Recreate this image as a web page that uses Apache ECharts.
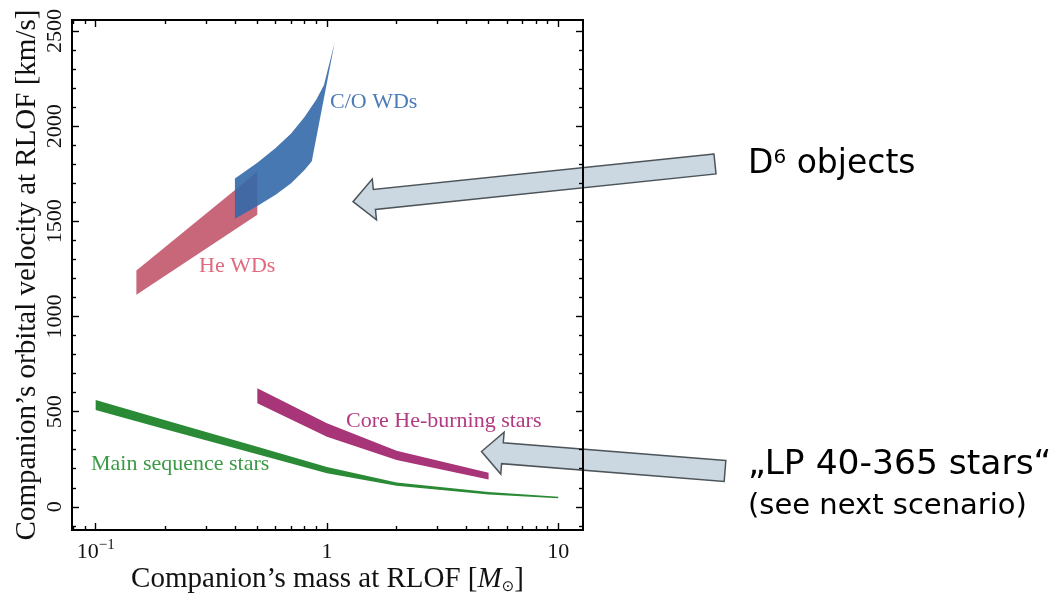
<!DOCTYPE html>
<html>
<head>
<meta charset="utf-8">
<script src="https://cdn.jsdelivr.net/npm/echarts@6/dist/echarts.min.js"></script>
<style>
  html, body { margin: 0; padding: 0; background: #fff; }
  #chart { width: 1051px; height: 595px; }
</style>
</head>
<body>
<div id="chart"></div>
<script>
// Companion's mass at RLOF [Msun] against orbital velocity at RLOF [km/s].
// Each class of companion is a band: an upper and a lower edge, [mass, velocity].
const heWdUpper = [[0.15, 1242], [0.5, 1760]];
const heWdLower = [[0.15, 1114], [0.5, 1535]];

const coWdUpper = [[0.4, 1725], [0.5, 1808], [0.6, 1885], [0.7, 1962], [0.8, 2048], [0.9, 2140], [0.97, 2215], [1.08, 2440]];
const coWdLower = [[0.4, 1513], [0.5, 1580], [0.6, 1640], [0.7, 1700], [0.8, 1770], [0.86, 1816], [1.08, 2440]];

const msUpper = [[0.1, 561], [0.2, 455], [0.5, 316], [1, 209], [2, 128], [5, 78], [10, 53]];
const msLower = [[0.1, 509], [0.2, 408], [0.5, 276], [1, 176], [2, 110], [5, 65], [10, 45]];

const heBurnUpper = [[0.5, 623], [1, 439], [2, 295], [5, 179]];
const heBurnLower = [[0.5, 544], [1, 368], [2, 246], [5, 144]];

// Axis ranges and ticks
const xRange = [0.079, 12.8];
const yRange = [-122, 2558];
const xMajorTicks = [0.1, 1, 10];
const xMinorTicks = [0.08, 0.09, 0.2, 0.3, 0.4, 0.5, 0.6, 0.7, 0.8, 0.9, 2, 3, 4, 5, 6, 7, 8, 9];
const yMajorTicks = [0, 500, 1000, 1500, 2000, 2500];
const yMinorTicks = [-100, 100, 200, 300, 400, 600, 700, 800, 900, 1100, 1200, 1300, 1400,
  1600, 1700, 1800, 1900, 2100, 2200, 2300, 2400];

const xTitle = 'Companion\u2019s mass at RLOF [{i|M}{sub|\u2299}]';
const yTitle = 'Companion\u2019s orbital velocity at RLOF [km/s]';

const SERIF = '"Liberation Serif", "DejaVu Serif", serif';
const SANS = '"DejaVu Sans", sans-serif';

const chart = echarts.init(document.getElementById('chart'), null, { renderer: 'canvas' });

// Filled band: the upper edge followed by the lower edge reversed, drawn as one polygon.
function band(name, upper, lower, color, opacity, z) {
  const ring = upper.concat(lower.slice().reverse());
  return {
    type: 'custom',
    name: name,
    coordinateSystem: 'cartesian2d',
    xAxisIndex: 0,
    yAxisIndex: 0,
    clip: true,
    silent: true,
    z: z,
    data: ring,
    encode: { x: 0, y: 1 },
    renderItem: function (params, api) {
      if (params.dataIndex !== 0) return null;
      return {
        type: 'polygon',
        shape: { points: ring.map(function (p) { return api.coord(p); }) },
        style: { fill: color, opacity: opacity }
      };
    }
  };
}

function xLabel(v) {
  const e = Math.round(Math.log10(v));
  if (e < 0) return '10{sup|\u2212' + (-e) + '}';
  return String(Math.round(v));
}

function makeX(position, ticks, len, withLabels) {
  return {
    type: 'log',
    logBase: 10,
    min: xRange[0],
    max: xRange[1],
    position: position,
    gridIndex: 0,
    name: withLabels ? xTitle : '',
    nameLocation: 'middle',
    nameGap: 33,
    nameMoveOverlap: false,
    nameTextStyle: {
      fontFamily: SERIF, fontSize: 29, color: '#111', lineHeight: 32,
      rich: {
        i: { fontFamily: SERIF, fontSize: 29, fontStyle: 'italic', color: '#111' },
        sub: { fontFamily: SANS, fontSize: 15, verticalAlign: 'bottom', color: '#111' }
      }
    },
    axisLine: { show: true, onZero: false, lineStyle: { color: '#000', width: 2 } },
    axisTick: { show: true, inside: true, length: len, customValues: ticks, lineStyle: { color: '#000', width: 1.4 } },
    axisLabel: {
      show: withLabels,
      customValues: xMajorTicks,
      formatter: xLabel,
      margin: 8,
      fontFamily: SERIF, fontSize: 22, color: '#111', lineHeight: 29,
      rich: { sup: { fontFamily: SERIF, fontSize: 15, verticalAlign: 'top', color: '#111' } }
    },
    splitLine: { show: false },
    minorTick: { show: false },
    minorSplitLine: { show: false }
  };
}

function makeY(position, ticks, len, withLabels) {
  return {
    type: 'value',
    min: yRange[0],
    max: yRange[1],
    position: position,
    gridIndex: 0,
    name: withLabels ? yTitle : '',
    nameLocation: 'middle',
    nameGap: 30,
    nameMoveOverlap: false,
    nameTextStyle: { fontFamily: SERIF, fontSize: 29, color: '#111' },
    axisLine: { show: true, onZero: false, lineStyle: { color: '#000', width: 2 } },
    axisTick: { show: true, inside: true, length: len, customValues: ticks, lineStyle: { color: '#000', width: 1.4 } },
    axisLabel: {
      show: withLabels,
      customValues: yMajorTicks,
      formatter: function (v) { return String(Math.round(v)); },
      rotate: 90,
      margin: 6,
      fontFamily: SERIF, fontSize: 22, color: '#111'
    },
    splitLine: { show: false },
    minorTick: { show: false }
  };
}

// Block arrow polygon from a tail centre to a tip.
function arrow(tail, tip, shaftHalf, headHalf, headLen) {
  const dx = tip[0] - tail[0], dy = tip[1] - tail[1];
  const L = Math.hypot(dx, dy);
  const ux = dx / L, uy = dy / L;
  const nx = -uy, ny = ux;
  const bx = tip[0] - ux * headLen, by = tip[1] - uy * headLen;
  return [
    [tail[0] + nx * shaftHalf, tail[1] + ny * shaftHalf],
    [bx + nx * shaftHalf, by + ny * shaftHalf],
    [bx + nx * headHalf, by + ny * headHalf],
    [tip[0], tip[1]],
    [bx - nx * headHalf, by - ny * headHalf],
    [bx - nx * shaftHalf, by - ny * shaftHalf],
    [tail[0] - nx * shaftHalf, tail[1] - ny * shaftHalf]
  ];
}

const arrowStyle = { fill: '#cbd8e1', stroke: '#4d555a', lineWidth: 1.5, lineJoin: 'miter' };

function label(text, x, y, color) {
  return {
    type: 'text', x: x, y: y, z: 10, silent: true,
    style: { text: text, font: '22px ' + SERIF, fill: color, align: 'left', verticalAlign: 'middle' }
  };
}

chart.setOption({
  animation: false,
  backgroundColor: '#ffffff',
  grid: { left: 72, right: 468, top: 20, bottom: 65, containLabel: false, outerBoundsMode: 'none' },
  xAxis: [
    makeX('bottom', xMajorTicks, 7, true),
    makeX('bottom', xMinorTicks, 4, false),
    makeX('top', xMajorTicks, 7, false),
    makeX('top', xMinorTicks, 4, false)
  ],
  yAxis: [
    makeY('left', yMajorTicks, 7, true),
    makeY('left', yMinorTicks, 4, false),
    makeY('right', yMajorTicks, 7, false),
    makeY('right', yMinorTicks, 4, false)
  ],
  series: [
    band('He WDs', heWdUpper, heWdLower, '#c8667a', 1, 2),
    band('C/O WDs', coWdUpper, coWdLower, '#3469a9', 0.9, 3),
    band('Main sequence stars', msUpper, msLower, '#2a8a35', 1, 2),
    band('Core He-burning stars', heBurnUpper, heBurnLower, '#a83577', 1, 2)
  ],
  graphic: [
    { type: 'polygon', z: -1, silent: true, shape: { points: arrow([715, 164], [353, 201.7], 10, 20.5, 21.5) }, style: arrowStyle },
    { type: 'polygon', z: -1, silent: true, shape: { points: arrow([725, 471], [481.5, 451.5], 10.5, 21, 21) }, style: arrowStyle },

    label('C/O WDs', 330, 102, '#4a7ab8'),
    label('He WDs', 199, 266, '#e0697f'),
    label('Main sequence stars', 91, 464, '#3c9a47'),
    label('Core He-burning stars', 346, 421, '#b13a80'),

    {
      type: 'text', x: 748, y: 164, silent: true,
      style: {
        text: 'D{sup|6} objects', font: '33px ' + SANS, fill: '#000', align: 'left', verticalAlign: 'middle',
        rich: { sup: { fontFamily: SANS, fontSize: 20, verticalAlign: 'top', fill: '#000' } }
      }
    },
    {
      type: 'text', x: 748, y: 465, silent: true,
      style: { text: '\u201eLP 40-365 stars\u201c', font: '34.5px ' + SANS, fill: '#000', align: 'left', verticalAlign: 'middle' }
    },
    {
      type: 'text', x: 748, y: 506, silent: true,
      style: { text: '(see next scenario)', font: '29px ' + SANS, fill: '#000', align: 'left', verticalAlign: 'middle' }
    }
  ]
});
</script>
</body>
</html>
